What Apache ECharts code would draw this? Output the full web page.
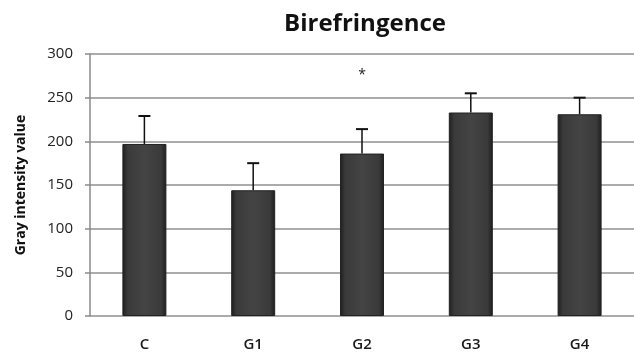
<!DOCTYPE html>
<html><head><meta charset="utf-8">
<script src="https://cdn.jsdelivr.net/npm/echarts@6/dist/echarts.min.js"></script>
<style>html,body{margin:0;padding:0;background:#fff}#c{width:634px;height:356px}</style>
</head><body><div id="c"></div>
<script>
const categories = ['C', 'G1', 'G2', 'G3', 'G4'];
const means = [197, 144, 186, 233, 231];
const errors = [32, 31, 28, 22, 19];
const yTicks = [0, 50, 100, 150, 200, 250, 300];
const markers = [{ category: 'G2', value: 276, text: '*' }];

const chart = echarts.init(document.getElementById('c'));
const font = 'Open Sans';
chart.setOption({
  animation: false,
  title: { text: 'Birefringence', left: 360, top: 7, textAlign: 'center',
    textStyle: { fontFamily: font, fontWeight: 'bold', fontSize: 24, color: '#111' } },
  grid: { left: 90, right: 0, top: 54, bottom: 40 },
  xAxis: { type: 'category', data: categories,
    axisLine: { show: false }, axisTick: { show: false },
    axisLabel: { margin: 21, fontFamily: font, fontWeight: 600, fontSize: 15, color: '#1a1a1a' } },
  yAxis: { type: 'value', min: yTicks[0], max: yTicks[yTicks.length - 1], interval: 50,
    name: 'Gray intensity value', nameLocation: 'middle', nameGap: 62,
    nameTextStyle: { fontFamily: font, fontWeight: 'bold', fontSize: 14, color: '#111' },
    axisLine: { show: true, lineStyle: { color: '#8a8a8a', width: 1.5 } },
    axisTick: { show: true, inside: false, length: 5, lineStyle: { color: '#8a8a8a', width: 1.5 } },
    splitLine: { lineStyle: { color: '#8f8f8f', width: 1.5 } },
    axisLabel: { margin: 17, fontFamily: font, fontSize: 15, color: '#222' } },
  series: [
    { type: 'bar', data: means, barWidth: 44,
      itemStyle: { color: new echarts.graphic.LinearGradient(0, 0, 1, 0, [
        { offset: 0, color: '#1e1e1e' }, { offset: 0.12, color: '#3a3a3a' },
        { offset: 0.5, color: '#444' }, { offset: 0.88, color: '#3a3a3a' }, { offset: 1, color: '#1e1e1e' }]),
        borderColor: '#222', borderWidth: 1 } },
    { type: 'custom', z: 5,
      data: means.map((m, i) => [i, m, m + errors[i]]),
      renderItem: function (params, api) {
        const base = api.coord([api.value(0), api.value(1)]);
        const top = api.coord([api.value(0), api.value(2)]);
        return { type: 'group', children: [
          { type: 'line', shape: { x1: base[0], y1: base[1], x2: top[0], y2: top[1] }, style: { stroke: '#111', lineWidth: 1.5 } },
          { type: 'line', shape: { x1: top[0] - 6, y1: top[1], x2: top[0] + 6, y2: top[1] }, style: { stroke: '#111', lineWidth: 2 } }
        ] };
      } },
    { type: 'custom', z: 6,
      data: markers.map(m => [categories.indexOf(m.category), m.value, m.text]),
      renderItem: function (params, api) {
        const p = api.coord([api.value(0), api.value(1)]);
        return { type: 'text', x: p[0], y: p[1],
          style: { text: markers[params.dataIndex].text, fontFamily: font, fontSize: 14, fontWeight: 'normal',
            fill: '#222', align: 'center', verticalAlign: 'middle' } };
      } }
  ]
});
</script></body></html>
